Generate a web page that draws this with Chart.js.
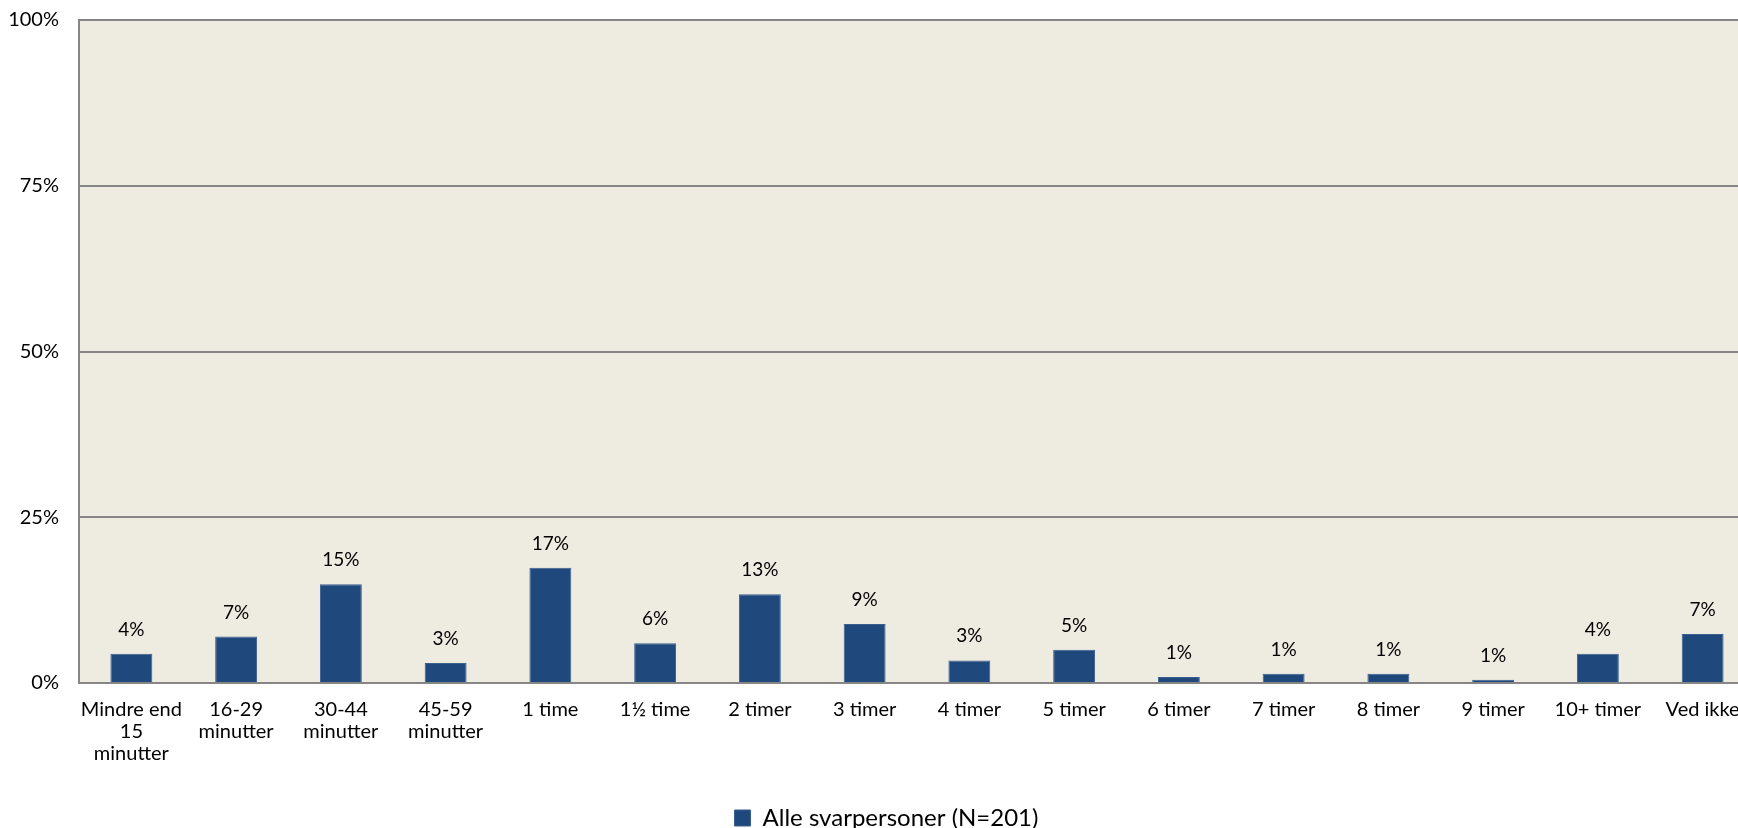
<!DOCTYPE html>
<html>
<head>
<meta charset="utf-8">
<title>Tidsforbrug</title>
<script src="https://cdn.jsdelivr.net/npm/chart.js@4/dist/chart.umd.min.js"></script>
<style>
  html, body { margin: 0; padding: 0; background: #ffffff; overflow: hidden; }
  #wrap { width: 1738px; height: 828px; overflow: hidden; }
  canvas { display: block; }
</style>
</head>
<body>
<div id="wrap">
  <canvas id="chart-bar" width="1776" height="840"></canvas>
</div>
<script>
/* =====================
  Data
===================== */

var categories = [
  ['Mindre end', '15', 'minutter'],
  ['16-29', 'minutter'],
  ['30-44', 'minutter'],
  ['45-59', 'minutter'],
  '1 time',
  '1\u00BD time',
  '2 timer',
  '3 timer',
  '4 timer',
  '5 timer',
  '6 timer',
  '7 timer',
  '8 timer',
  '9 timer',
  '10+ timer',
  'Ved ikke'
];

// andel i procent
var shares = [4.4, 7.0, 14.9, 3.0, 17.4, 6.0, 13.4, 8.9, 3.4, 5.0, 0.9, 1.4, 1.4, 0.5, 4.4, 7.4];

var seriesName = 'Alle svarpersoner (N=201)';
var yTicks = [0, 25, 50, 75, 100];

/* =====================
  Plugins
===================== */

// beige plot area behind the bars
var plotBackground = {
  id: 'plotBackground',
  beforeDraw: function(chart) {
    var a = chart.chartArea;
    var ctx = chart.ctx;
    ctx.save();
    ctx.fillStyle = '#EEEBE0';
    ctx.fillRect(a.left, a.top, a.right - a.left, a.bottom - a.top);
    ctx.restore();
  }
};

// percent label above each bar
var barLabels = {
  id: 'barLabels',
  afterDatasetsDraw: function(chart) {
    var ctx = chart.ctx;
    var meta = chart.getDatasetMeta(0);
    ctx.save();
    ctx.font = '19px Lato';
    ctx.fillStyle = '#000000';
    ctx.textAlign = 'center';
    ctx.textBaseline = 'alphabetic';
    meta.data.forEach(function(bar, i) {
      var v = chart.data.datasets[0].data[i];
      ctx.fillText(Math.round(v) + '%', bar.x, bar.y - 18);
    });
    ctx.restore();
  }
};

// legend sits a bit right of the canvas centre
var legendShift = {
  id: 'legendShift',
  afterLayout: function(chart) {
    if (chart.legend) {
      chart.legend.left += 18;
    }
  }
};

/* =====================
  Chart
===================== */

var ctx1 = document.getElementById('chart-bar').getContext('2d');

var bar_chart = new Chart(ctx1, {
  type: 'bar',
  data: {
    labels: categories,
    datasets: [{
      label: seriesName,
      data: shares,
      backgroundColor: '#1F497D',
      borderColor: '#3A5F8E',
      borderWidth: 1,
      barPercentage: 0.4,
      categoryPercentage: 1.0
    }]
  },
  options: {
    responsive: false,
    animation: false,
    layout: {
      padding: { top: 0, right: 21, bottom: 0, left: 0 }
    },
    plugins: {
      tooltip: { enabled: false },
      legend: {
        position: 'bottom',
        labels: {
          boxWidth: 16,
          boxHeight: 16,
          padding: 10,
          color: '#000000',
          font: { family: 'Lato', size: 24 }
        }
      }
    },
    scales: {
      x: {
        grid: { display: false, drawTicks: false },
        border: { display: true, color: '#868686', width: 2 },
        ticks: {
          color: '#000000',
          font: { family: 'Lato', size: 20, lineHeight: 1.1 },
          padding: 16,
          maxRotation: 0,
          autoSkip: false
        },
        afterFit: function(scale) { scale.height = 113; }
      },
      y: {
        min: 0,
        max: 100,
        afterBuildTicks: function(scale) {
          scale.ticks = yTicks.map(function(v) { return { value: v }; });
        },
        grid: { color: '#868686', lineWidth: 2, drawTicks: false },
        border: { display: true, color: '#868686', width: 2 },
        ticks: {
          color: '#000000',
          font: { family: 'Lato', size: 20 },
          padding: 20,
          callback: function(v) { return v + '%'; }
        },
        afterFit: function(scale) {
          scale.width = 79;
          // keep the top of the plot 20px below the canvas edge
          scale.paddingTop = 20;
        }
      }
    }
  },
  plugins: [plotBackground, barLabels, legendShift]
});
</script>
</body>
</html>
